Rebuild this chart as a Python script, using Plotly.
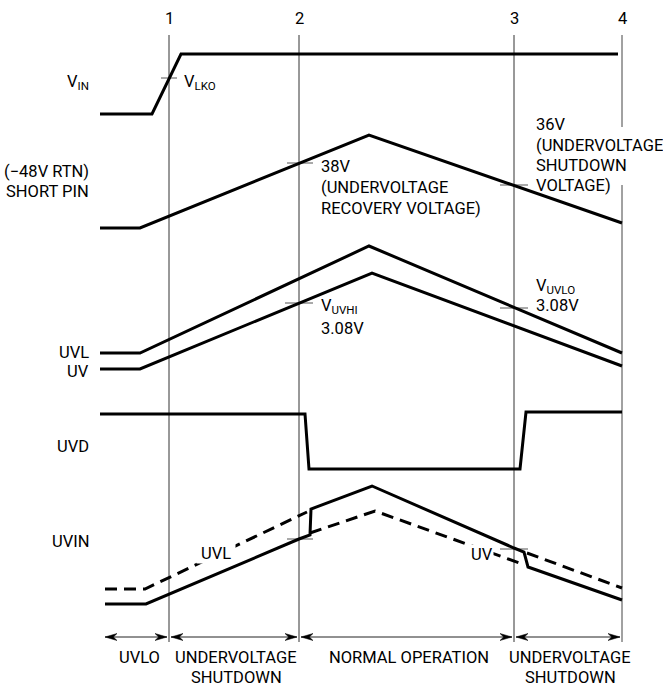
import plotly.graph_objects as go

# ---------------- data (time / level values) ----------------
MARKER_T = [169, 299, 514, 622]
MARKER_LABELS = ["1", "2", "3", "4"]
MARKER_TOP = 35
MARKER_BOTTOM = 642
MARKER4_GAP = (127, 185)

VIN_T = [100, 152, 181, 618]
VIN_V = [114, 114, 54, 54]

SHORT_T = [100, 140, 369, 622]
SHORT_V = [228, 228, 135, 223]

UVL_T = [100, 140, 369, 622]
UVL_V = [353, 353, 246, 353]

UV_T = [100, 140, 372, 622]
UV_V = [369, 369, 273, 366]

UVD_T = [100, 305, 309, 520, 526, 622]
UVD_V = [414, 414, 469, 469, 412, 412]

UVIN_T = [105, 146, 299, 310, 311, 372, 514, 524, 528, 622]
UVIN_V = [604, 604, 539, 535, 509, 486, 548, 552, 567, 600]

UVIN_UVL_A_T = [105, 145, 307]
UVIN_UVL_A_V = [589, 589, 512]
UVIN_UV_T = [310, 375, 525]
UVIN_UV_V = [533, 511, 565]
UVIN_UVL_C_T = [527, 622]
UVIN_UVL_C_V = [553, 588]

# threshold tick marks: (t_start, t_end, level)
TICKS = [
    (161, 177, 78),    # VLKO
    (287, 313, 163),   # 38V
    (500, 528, 185),   # 36V
    (285, 313, 303),   # VUVHI
    (500, 528, 308),   # VUVLO
    (287, 313, 539),   # UVIN @2
    (500, 528, 549),   # UVIN @3
]

PHASE_EDGES = [105, 169, 299, 514, 622]
PHASE_LABELS = [["UVLO"], ["UNDERVOLTAGE", "SHUTDOWN"], ["NORMAL OPERATION"],
                ["UNDERVOLTAGE", "SHUTDOWN"]]
PHASE_ARROW_Y = 637

SIGNAL_LABELS = [
    ("V<sub>IN</sub>", 82),
    ("(\u221248V RTN)", 171),
    ("SHORT PIN", 191),
    ("UVL", 352),
    ("UV", 371),
    ("UVD", 446),
    ("UVIN", 541),
]

FONT = "Roboto, Liberation Sans, sans-serif"
FS = 16.5

fig = go.Figure()

def add_line(xs, ys, width=3, color="black", dash=None):
    fig.add_trace(go.Scatter(x=xs, y=ys, mode="lines",
                             line=dict(width=width, color=color, dash=dash),
                             hoverinfo="skip", showlegend=False))

# vertical event markers
for i, t in enumerate(MARKER_T):
    if i == 3:
        add_line([t, t, None, t, t],
                 [MARKER_TOP, MARKER4_GAP[0], None, MARKER4_GAP[1], MARKER_BOTTOM],
                 width=1, color="#444")
    else:
        add_line([t, t], [MARKER_TOP, MARKER_BOTTOM], width=1, color="#333")

# ticks
for t0, t1, v in TICKS:
    add_line([t0, t1], [v, v], width=1, color="#555")

# signals
add_line(VIN_T, VIN_V)
add_line(SHORT_T, SHORT_V)
add_line(UVL_T, UVL_V)
add_line(UV_T, UV_V)
add_line(UVD_T, UVD_V)
add_line(UVIN_UVL_A_T, UVIN_UVL_A_V, dash="12px,7px")
add_line(UVIN_UV_T, UVIN_UV_V, dash="12px,7px")
add_line(UVIN_UVL_C_T, UVIN_UVL_C_V, dash="12px,7px")
add_line(UVIN_T, UVIN_V)

# bottom phase arrows
HEAD_L, HEAD_H, NOTCH, GAP = 12, 3.5, 0.7, 2
ax, ay = [], []
hx, hy = [], []
for a, b in zip(PHASE_EDGES[:-1], PHASE_EDGES[1:]):
    a2 = a + (GAP if a != PHASE_EDGES[0] else 0)
    b2 = b - GAP
    ax += [a2, b2, None]
    ay += [PHASE_ARROW_Y, PHASE_ARROW_Y, None]
    for tip, d in ((a2, 1), (b2, -1)):
        hx += [tip, tip + d * HEAD_L, tip + d * HEAD_L * NOTCH, tip + d * HEAD_L, tip, None]
        hy += [PHASE_ARROW_Y, PHASE_ARROW_Y - HEAD_H, PHASE_ARROW_Y,
               PHASE_ARROW_Y + HEAD_H, PHASE_ARROW_Y, None]
add_line(ax, ay, width=1, color="#222")
fig.add_trace(go.Scatter(x=hx, y=hy, mode="lines", fill="toself", fillcolor="black",
                         line=dict(width=0.5, color="black"), hoverinfo="skip",
                         showlegend=False))

ann = []
def text(x, y, s, xanchor="left", bg=None):
    d = dict(x=x, y=y, xref="x", yref="y", text=s, showarrow=False,
             xanchor=xanchor, yanchor="middle",
             font=dict(family=FONT, size=FS, color="black"))
    if bg:
        d["bgcolor"] = bg
        d["borderpad"] = 0
    ann.append(d)

for t, lab in zip(MARKER_T, MARKER_LABELS):
    text(t, 18, lab, "center")
for s, y in SIGNAL_LABELS:
    text(91, y, s, "right")

text(182, 82, "V<sub>LKO</sub>")
for s, y in zip(["38V", "(UNDERVOLTAGE", "RECOVERY VOLTAGE)"], [166, 187, 208]):
    text(319, y, s)
for s, y in zip(["36V", "(UNDERVOLTAGE", "SHUTDOWN", "VOLTAGE)"], [124, 145, 165, 185]):
    text(534, y, s)
text(319, 306, "V<sub>UVHI</sub>")
text(319, 328, "3.08V")
text(534, 286, "V<sub>UVLO</sub>")
text(534, 305, "3.08V")
text(216, 553, " UVL ", "center", bg="white")
text(482, 554, "UV", "center", bg="white")

for (a, b), lines in zip(zip(PHASE_EDGES[:-1], PHASE_EDGES[1:]), PHASE_LABELS):
    for k, s in enumerate(lines):
        text((a + b) / 2 + 2, 657 + 20 * k, s, "center")

fig.update_layout(
    width=663, height=687, margin=dict(l=0, r=0, t=0, b=0),
    paper_bgcolor="white", plot_bgcolor="white",
    xaxis=dict(range=[0, 663], visible=False, fixedrange=True),
    yaxis=dict(range=[687, 0], visible=False, fixedrange=True),
    annotations=ann,
)
fig.write_html("out.html", config={"displayModeBar": False},
               post_script="document.body.style.margin='0px';")
